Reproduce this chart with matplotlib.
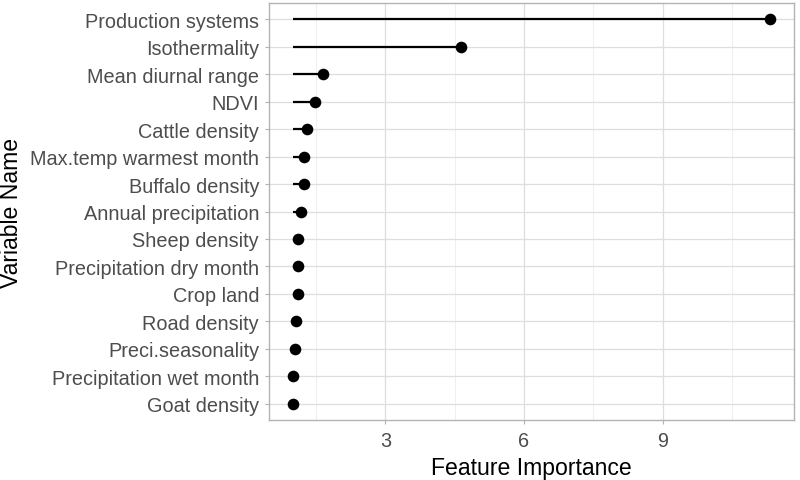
import matplotlib
matplotlib.use("Agg")
import matplotlib.pyplot as plt
from matplotlib.ticker import FixedLocator

variables = ["Production systems", "Isothermality", "Mean diurnal range", "NDVI",
             "Cattle density", "Max.temp warmest month", "Buffalo density",
             "Annual precipitation", "Sheep density", "Precipitation dry month",
             "Crop land", "Road density", "Preci.seasonality",
             "Precipitation wet month", "Goat density"]
importance = [11.33, 4.63, 1.64, 1.47, 1.31, 1.23, 1.23, 1.18, 1.11, 1.11,
              1.11, 1.07, 1.03, 0.99, 0.99]
x_ticks = [3, 6, 9]

plt.rcParams['font.family'] = ['Liberation Sans', 'DejaVu Sans']

fig = plt.figure(figsize=(8, 4.81), dpi=100)
ax = fig.add_axes([0.336, 0.1247, 0.9925 - 0.336, 0.9917 - 0.1247])

n = len(variables)
ypos = list(range(n - 1, -1, -1))
base = min(importance)

ax.hlines(ypos, base, importance, color="black", lw=1.6, zorder=3)
ax.scatter(importance, ypos, s=70, color="black", zorder=4, linewidths=0)

rng = max(importance) - base
ax.set_xlim(base - 0.05 * rng, max(importance) + 0.05 * rng)
ax.set_ylim(-0.6, n - 0.4)

ax.xaxis.set_major_locator(FixedLocator(x_ticks))
ax.xaxis.set_minor_locator(FixedLocator([1.5, 4.5, 7.5, 10.5]))
ax.set_yticks(ypos)
ax.set_yticklabels(variables)

ax.grid(which="major", color="#DEDEDE", lw=0.9, zorder=0)
ax.grid(which="minor", axis="x", color="#EDEDED", lw=0.6, zorder=0)
ax.set_axisbelow(True)
for s in ax.spines.values():
    s.set_color("#B3B3B3")
    s.set_linewidth(1.0)

ax.tick_params(axis="both", which="major", length=3, color="#B3B3B3",
               labelsize=14.3, labelcolor="#4D4D4D")
ax.tick_params(axis="x", which="major", pad=5)
ax.tick_params(axis="y", which="major", pad=4)
ax.tick_params(axis="both", which="minor", length=0)

ax.set_xlabel("Feature Importance", fontsize=16.6, color="black", labelpad=4)
ax.set_ylabel("Variable Name", fontsize=16.6, color="black", labelpad=5)

fig.savefig("out.png", dpi=100)
